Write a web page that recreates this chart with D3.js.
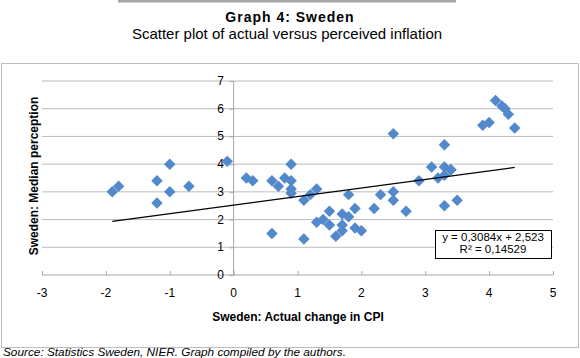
<!doctype html>
<html lang="en">
  <head>
    <meta charset="UTF-8" />
    <title>Graph 4: Sweden</title>
    <script src="https://d3js.org/d3.v7.min.js"></script>
    <style>
      body {
        margin: 0;
        background: #fff;
        font-family: 'Liberation Sans', Arial, sans-serif;
      }
      .tick-label {
        font-size: 12px;
        fill: #000;
      }
      .axis-title {
        font-size: 12px;
        font-weight: bold;
        fill: #000;
      }
      .grid line {
        stroke: #bcbcbc;
        stroke-width: 1;
      }
    </style>
  </head>
  <body>
    <svg id="chart"></svg>
    <script>
      const W = 580
      const H = 358

      // Actual change in CPI (x) and median perceived inflation (y)
      const cpiChange = [
        -1.9, -1.8, -1.2, -1.2, -1.0, -1.0, -0.7, -0.1, 0.2, 0.3, 0.6, 0.7, 0.8, 0.9, 0.9, 0.9,
        0.9, 1.1, 1.2, 1.3, 0.6, 1.1, 1.8, 1.3, 1.4, 1.5, 1.5, 1.6, 1.7, 1.7, 1.7, 1.8, 1.9, 1.9,
        2.0, 2.2, 2.3, 2.5, 2.5, 2.5, 2.7, 2.9, 3.1, 3.3, 3.3, 3.4, 3.2, 3.3, 3.4, 3.3, 3.5, 3.9,
        4.0, 4.1, 4.2, 4.25, 4.3, 4.4,
      ]
      const perceived = [
        3.0, 3.2, 3.4, 2.6, 4.0, 3.0, 3.2, 4.1, 3.5, 3.4, 3.4, 3.2, 3.5, 4.0, 3.4, 3.1, 2.95,
        2.7, 2.9, 3.1, 1.5, 1.3, 2.9, 1.9, 2.0, 2.3, 1.8, 1.4, 1.6, 2.2, 1.8, 2.1, 2.4, 1.7, 1.6,
        2.4, 2.9, 3.0, 2.7, 5.1, 2.3, 3.4, 3.9, 4.7, 3.9, 3.8, 3.5, 3.6, 3.8, 2.5, 2.7, 5.4, 5.5,
        6.3, 6.1, 6.0, 5.8, 5.3,
      ]

      // Excel linear trendline as printed in the chart
      const slope = 0.3084
      const intercept = 2.523
      const trendLabel = ['y = 0,3084x + 2,523', 'R² = 0,14529']

      const xTicks = [-3, -2, -1, 0, 1, 2, 3, 4, 5]
      const yTicks = [0, 1, 2, 3, 4, 5, 6, 7]

      const points = cpiChange.map((x, i) => ({ x: x, y: perceived[i] }))

      const svg = d3.select('#chart').attr('width', W).attr('height', H)

      // top rule and frame
      svg.append('rect').attr('x', 118).attr('y', 0).attr('width', 338).attr('height', 2.5).attr('fill', '#a6a6a6')
      svg
        .append('rect')
        .attr('x', 1.5)
        .attr('y', 63.5)
        .attr('width', 577)
        .attr('height', 284)
        .attr('fill', 'none')
        .attr('stroke', '#bdbdbd')

      // titles
      svg
        .append('text')
        .attr('x', 290)
        .attr('y', 22)
        .attr('text-anchor', 'middle')
        .style('font-size', '14px')
        .style('font-weight', 'bold')
        .style('letter-spacing', '1px')
        .text('Graph 4: Sweden')
      svg
        .append('text')
        .attr('x', 287)
        .attr('y', 39)
        .attr('text-anchor', 'middle')
        .style('font-size', '15px')
        .text('Scatter plot of actual versus perceived inflation')

      // scales
      const x = d3.scaleLinear().domain([-3, 5]).range([42, 553])
      const y = d3.scaleLinear().domain([0, 7]).range([275, 81])

      // horizontal gridlines
      svg
        .append('g')
        .attr('class', 'grid')
        .selectAll('line')
        .data(yTicks.filter((d) => d > 0))
        .enter()
        .append('line')
        .attr('x1', x(-3))
        .attr('x2', x(5))
        .attr('y1', (d) => y(d))
        .attr('y2', (d) => y(d))

      // x axis (at y = 0), ticks pointing up
      const xAxis = svg.append('g').attr('transform', `translate(0,${y(0)})`).call(d3.axisTop(x).tickValues(xTicks).tickSize(4).tickFormat(''))
      xAxis.selectAll('path, line').attr('stroke', '#a6a6a6')
      xAxis.select('.domain').attr('d', `M${x(-3)},0H${x(5)}`)
      svg
        .append('g')
        .selectAll('text')
        .data(xTicks)
        .enter()
        .append('text')
        .attr('class', 'tick-label')
        .attr('x', (d) => x(d))
        .attr('y', 297)
        .attr('text-anchor', 'middle')
        .text((d) => d)

      // y axis (at x = 0)
      const yAxis = svg.append('g').attr('transform', `translate(${x(0)},0)`).call(d3.axisLeft(y).tickValues(yTicks).tickSize(4).tickFormat(''))
      yAxis.selectAll('path, line').attr('stroke', '#a6a6a6')
      yAxis.select('.domain').attr('d', `M0,${y(0)}V${y(7)}`)
      svg
        .append('g')
        .selectAll('text')
        .data(yTicks)
        .enter()
        .append('text')
        .attr('class', 'tick-label')
        .attr('x', 224)
        .attr('y', (d) => y(d) + 4)
        .attr('text-anchor', 'end')
        .text((d) => d)

      // axis titles
      svg
        .append('text')
        .attr('class', 'axis-title')
        .attr('x', 298)
        .attr('y', 321)
        .attr('text-anchor', 'middle')
        .text('Sweden: Actual change in CPI')
      svg
        .append('text')
        .attr('class', 'axis-title')
        .attr('transform', 'translate(38,176) rotate(-90)')
        .attr('text-anchor', 'middle')
        .text('Sweden: Median perception')

      // diamond markers
      const diamond = d3.symbol().type(d3.symbolSquare).size(66)
      svg
        .append('g')
        .selectAll('path')
        .data(points)
        .enter()
        .append('path')
        .attr('d', diamond)
        .attr('transform', (d) => `translate(${x(d.x)},${y(d.y)}) rotate(45)`)
        .attr('fill', '#5289cc')

      // trendline over the data range
      const xr = d3.extent(cpiChange)
      svg
        .append('line')
        .attr('x1', x(xr[0]))
        .attr('y1', y(intercept + slope * xr[0]))
        .attr('x2', x(xr[1]))
        .attr('y2', y(intercept + slope * xr[1]))
        .attr('stroke', '#000')
        .attr('stroke-width', 1.3)

      // trendline label box
      svg
        .append('rect')
        .attr('x', 435.5)
        .attr('y', 230.5)
        .attr('width', 116)
        .attr('height', 28)
        .attr('fill', '#fff')
        .attr('stroke', '#000')
      svg
        .append('g')
        .selectAll('text')
        .data(trendLabel)
        .enter()
        .append('text')
        .attr('x', 493)
        .attr('y', (d, i) => 241 + i * 12)
        .attr('text-anchor', 'middle')
        .style('font-size', '11.5px')
        .text((d) => d)

      // source
      svg
        .append('text')
        .attr('x', 3)
        .attr('y', 356)
        .style('font-size', '11.8px')
        .style('font-style', 'italic')
        .text('Source: Statistics Sweden, NIER. Graph compiled by the authors.')
    </script>
  </body>
</html>
